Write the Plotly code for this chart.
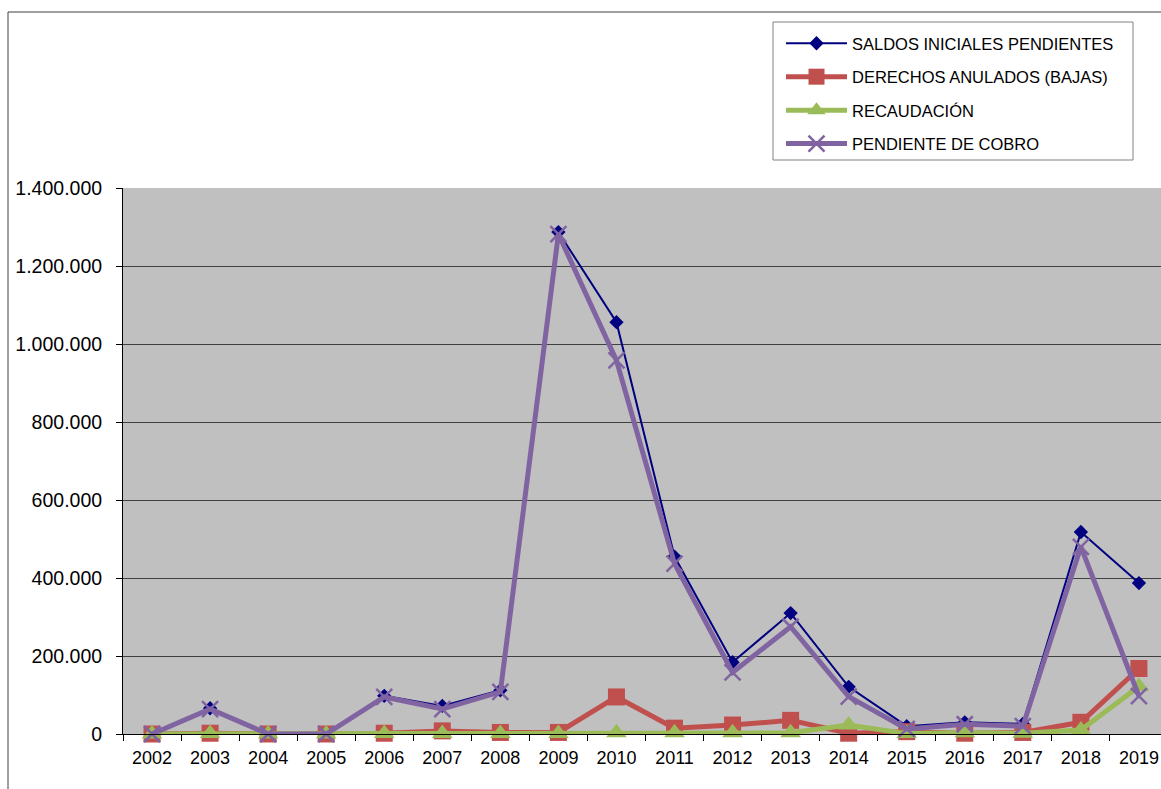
import plotly.graph_objects as go

years = [str(y) for y in range(2002, 2020)]

saldos = [0, 66000, 0, 0, 98000, 72000, 112000, 1287000, 1056000, 455000,
          184000, 310000, 121000, 20000, 30000, 26000, 518000, 387000]
derechos = [0, 2000, 0, 0, 2000, 8000, 4000, 4000, 95000, 15000,
            23000, 35000, 2000, 6000, 2000, 4000, 30000, 168000]
recaudacion = [0, 1000, 0, 0, 1000, 1000, 1000, 1000, 3000, 3000,
               3000, 3000, 23000, 1000, 3000, 2000, 10000, 122000]
pendiente = [0, 64000, 0, 0, 95000, 64000, 108000, 1282000, 958000, 437000,
             158000, 275000, 96000, 13000, 25000, 20000, 480000, 97000]

names = ["SALDOS INICIALES PENDIENTES", "DERECHOS ANULADOS (BAJAS)",
         "RECAUDACIÓN", "PENDIENTE DE COBRO"]

fig = go.Figure()
fig.add_trace(go.Scatter(x=years, y=saldos, name=names[0], mode="lines+markers",
                         line=dict(color="#000080", width=2),
                         marker=dict(symbol="diamond", size=11, color="#000080"),
                         legendgroup="a", cliponaxis=False))
fig.add_trace(go.Scatter(x=years, y=derechos, name=names[1], mode="lines+markers",
                         line=dict(color="#C0504D", width=5),
                         marker=dict(symbol="square", size=17, color="#C0504D"),
                         legendgroup="b", cliponaxis=False))
fig.add_trace(go.Scatter(x=years, y=recaudacion, name=names[2], mode="lines+markers",
                         line=dict(color="#9BBB59", width=5),
                         marker=dict(symbol="triangle-up", size=18, color="#9BBB59"),
                         legendgroup="c", cliponaxis=False))
fig.add_trace(go.Scatter(x=years, y=pendiente, name=names[3], mode="lines+markers",
                         line=dict(color="#8064A2", width=5),
                         marker=dict(symbol="x-thin", size=16,
                                     line=dict(color="#8064A2", width=2.5)),
                         legendgroup="d", cliponaxis=False))

W, H = 1161, 789
L, T, B = 123, 188, 55
pw = W - L
ph = H - T - B


def px_x(p):
    return (p - L) / pw


def px_y(p):
    return (H - B - p) / ph


fig.update_layout(
    width=W, height=H,
    margin=dict(l=L, r=0, t=T, b=B),
    paper_bgcolor="white",
    plot_bgcolor="#C0C0C0",
    separators=",.",
    font=dict(family="Liberation Sans, Arial, sans-serif", size=18, color="black"),
    showlegend=True,
    legend=dict(x=px_x(781), y=px_y(26), xanchor="left", yanchor="top",
                bgcolor="rgba(0,0,0,0)", borderwidth=0,
                font=dict(size=16.5), traceorder="grouped", tracegroupgap=9,
                itemwidth=61),
    xaxis=dict(type="category", range=[-0.5, 17.38], tickson="boundaries",
               ticks="outside", ticklen=6, tickcolor="black",
               showline=True, linecolor="black", linewidth=1,
               showgrid=False, tickfont=dict(size=18), ticklabelstandoff=7,
               fixedrange=True),
    yaxis=dict(range=[0, 1400000], dtick=200000, tickformat=",d",
               ticks="outside", ticklen=6, tickcolor="black",
               showline=True, linecolor="black", linewidth=1,
               showgrid=True, gridcolor="#404040", gridwidth=1,
               zeroline=False, tickfont=dict(size=19.5), ticklabelstandoff=10,
               fixedrange=True),
    shapes=[
        dict(type="line", xref="paper", yref="paper",
             x0=px_x(8), x1=1.05, y0=px_y(12), y1=px_y(12),
             line=dict(color="#404040", width=1)),
        dict(type="line", xref="paper", yref="paper",
             x0=px_x(8), x1=px_x(8), y0=px_y(12), y1=-0.2,
             line=dict(color="#404040", width=1)),
        dict(type="rect", xref="paper", yref="paper", layer="above",
             x0=px_x(773), x1=px_x(1133), y0=px_y(22), y1=px_y(160),
             fillcolor="white", line=dict(color="#808080", width=1)),
    ],
)

fig.write_html("out.html",
               config={"displayModeBar": False},
               post_script="document.body.style.margin='0';"
                           "document.body.style.overflow='hidden';")
